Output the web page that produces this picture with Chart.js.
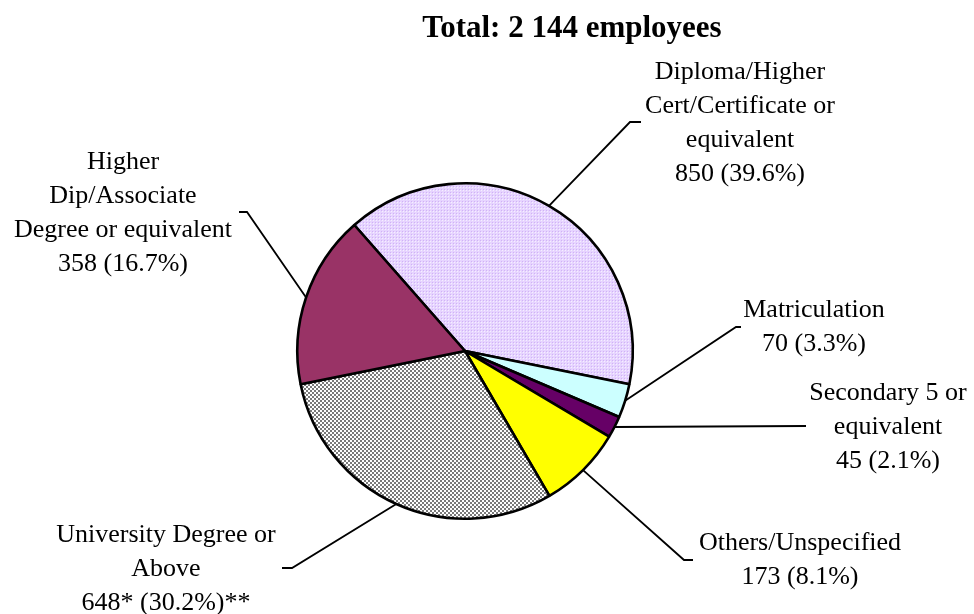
<!DOCTYPE html>
<html>
<head>
<meta charset="utf-8">
<script src="https://cdn.jsdelivr.net/npm/chart.js@4"></script>
<style>
  html, body { margin: 0; padding: 0; background: #fff; }
  #wrap { width: 974px; height: 614px; position: relative; }
</style>
</head>
<body>
<div id="wrap"><canvas id="pieChart" width="974" height="614"></canvas></div>
<script>
const categories = [
  "Diploma/Higher Cert/Certificate or equivalent",
  "Matriculation",
  "Secondary 5 or equivalent",
  "Others/Unspecified",
  "University Degree or Above",
  "Higher Dip/Associate Degree or equivalent"
];
const employees = [850, 70, 45, 173, 648, 358];
const total = 2144;
const labelLines = [
  ["Diploma/Higher", "Cert/Certificate or", "equivalent"],
  ["Matriculation"],
  ["Secondary 5 or", "equivalent"],
  ["Others/Unspecified"],
  ["University Degree or", "Above"],
  ["Higher", "Dip/Associate", "Degree or equivalent"]
];
const valueMarks = ["", "", "", "", "*", ""];
const pctMarks = ["", "", "", "", "**", ""];

// label placement (text centre, first line y, leader elbow, leader end)
const labelPos = [
  { x: 740, y: 72, elbow: [630, 122], end: [641, 122] },
  { x: 814, y: 310, elbow: [736, 327], end: [741, 327] },
  { x: 888, y: 393, elbow: [806, 426], end: [806, 426] },
  { x: 800, y: 543, elbow: [684, 560], end: [693, 560] },
  { x: 166, y: 535, elbow: [292, 568], end: [282, 568] },
  { x: 123, y: 162, elbow: [247, 212], end: [239, 212] }
];

function makePattern(size, fn) {
  const c = document.createElement("canvas");
  c.width = size; c.height = size;
  const g = c.getContext("2d");
  fn(g);
  return g.createPattern(c, "repeat");
}

const ctx = document.getElementById("pieChart").getContext("2d");

const lavender = makePattern(3, g => {
  g.fillStyle = "#e6d4ff"; g.fillRect(0, 0, 3, 3);
  g.fillStyle = "#d0b2f6"; g.fillRect(0, 0, 1, 1);
  g.fillStyle = "#f6efff"; g.fillRect(1, 1, 1, 1);
});
const checker = makePattern(4, g => {
  g.fillStyle = "#ffffff"; g.fillRect(0, 0, 4, 4);
  g.fillStyle = "#7a7a7a"; g.fillRect(0, 0, 2, 2); g.fillRect(2, 2, 2, 2);
});

const colors = [lavender, "#ccffff", "#660066", "#ffff00", checker, "#993366"];
const font = "'Liberation Serif', 'Times New Roman', serif";

const labelPlugin = {
  id: "pieLabels",
  afterDraw(chart) {
    const c = chart.ctx;
    const arcs = chart.getDatasetMeta(0).data;
    c.save();
    // title
    c.fillStyle = "#000";
    c.font = "bold 31px " + font;
    c.textAlign = "center";
    c.textBaseline = "alphabetic";
    c.fillText("Total: 2 144 employees", 572, 37);

    c.font = "26px " + font;
    c.textBaseline = "middle";
    c.strokeStyle = "#000";
    c.lineWidth = 1.8;
    arcs.forEach((arc, i) => {
      const p = arc.getProps(["x", "y", "startAngle", "endAngle", "outerRadius"], true);
      const mid = (p.startAngle + p.endAngle) / 2;
      const sx = p.x + Math.cos(mid) * p.outerRadius;
      const sy = p.y + Math.sin(mid) * p.outerRadius;
      const pos = labelPos[i];
      c.beginPath();
      c.moveTo(sx, sy);
      c.lineTo(pos.elbow[0], pos.elbow[1]);
      c.lineTo(pos.end[0], pos.end[1]);
      c.stroke();

      const v = employees[i];
      const pct = (v / total * 100).toFixed(1);
      const lines = labelLines[i].concat([v + valueMarks[i] + " (" + pct + "%)" + pctMarks[i]]);
      lines.forEach((t, k) => c.fillText(t, pos.x, pos.y + k * 34));
    });
    c.restore();
  }
};

new Chart(ctx, {
  type: "pie",
  data: {
    labels: categories,
    datasets: [
      {
        data: employees,
        backgroundColor: colors,
        borderColor: "#000",
        borderWidth: 2.6,
        borderAlign: "center"
      }
    ]
  },
  options: {
    responsive: false,
    animation: false,
    events: [],
    rotation: -41.3,
    layout: {
      padding: { top: 182, bottom: 94, left: 296, right: 340 }
    },
    plugins: {
      legend: { display: false },
      tooltip: { enabled: false },
      title: { display: false }
    }
  },
  plugins: [labelPlugin]
});
</script>
</body>
</html>
